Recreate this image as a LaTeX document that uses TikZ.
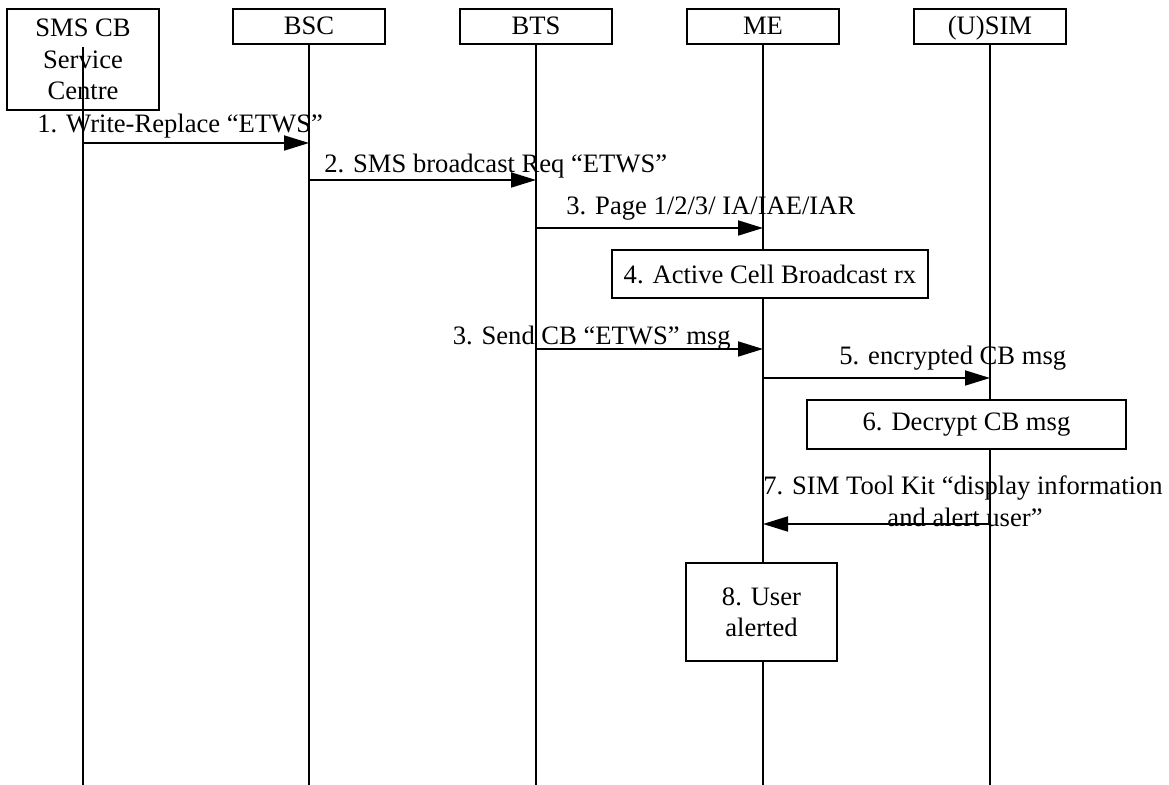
\documentclass[tikz,border=0pt]{standalone}
\usepackage{fontspec}
\setmainfont{Liberation Serif}
\usetikzlibrary{arrows.meta}
\begin{document}
\begin{tikzpicture}[x=0.5pt,y=-0.5pt,
  every node/.style={font=\fontsize{13.3}{15.7}\selectfont, inner sep=0pt},
  boxline/.style={draw, line width=0.9pt},
  hdr/.style={boxline, minimum width=76pt, minimum height=17.5pt, text height=10pt, text depth=1.5pt},
  act/.style={boxline, fill=white, align=center},
  life/.style={line width=0.9pt},
  msg/.style={line width=0.9pt, -{Triangle[length=12.5pt,width=7.5pt]}},
  lbl/.style={anchor=base west}]
\useasboundingbox (0,0) rectangle (1169,785);

% header boxes
\node[boxline, minimum width=76pt, minimum height=50.5pt, align=center] (smscb) at (83,59.5) {SMS CB\\Service\\Centre};
\node[hdr] (bsc) at (309,26.5) {BSC};
\node[hdr] (bts) at (536,26.5) {BTS};
\node[hdr] (me) at (763,26.5) {ME};
\node[hdr] (usim) at (990,26.5) {(U)SIM};

% lifeline ends
\coordinate (smsT) at (83,47);
\coordinate (smsE) at (83,785);
\coordinate (bscE) at (309,785);
\coordinate (btsE) at (536,785);
\coordinate (meE) at (763,785);
\coordinate (usimE) at (990,785);

\draw[life] (smsT) -- (smsE);
\draw[life] (bsc.south) -- (bscE);
\draw[life] (bts.south) -- (btsE);
\draw[life] (me.south) -- (meE);
\draw[life] (usim.south) -- (usimE);

% action boxes
\node[act, minimum width=158pt, minimum height=24pt] (act4) at (770,274) {4. Active Cell Broadcast rx};
\node[act, minimum width=159.5pt, minimum height=24.5pt] (act6) at (966.5,424.5) {6. Decrypt CB msg};
\node[act, minimum width=75.5pt, minimum height=49pt] (act8) at (761.5,612) {8. User\\alerted};

% message end points
\coordinate (m1a) at (83,143);   \coordinate (m1b) at (309,143);
\coordinate (m2a) at (309,180);  \coordinate (m2b) at (536,180);
\coordinate (m3a) at (536,228);  \coordinate (m3b) at (763,228);
\coordinate (m3ca) at (536,349); \coordinate (m3cb) at (763,349);
\coordinate (m5a) at (763,378);  \coordinate (m5b) at (990,378);
\coordinate (m7a) at (990,524);  \coordinate (m7b) at (763,524);

\draw[msg] (m1a) -- (m1b);
\draw[msg] (m2a) -- (m2b);
\draw[msg] (m3a) -- (m3b);
\draw[msg] (m3ca) -- (m3cb);
\draw[msg] (m5a) -- (m5b);
\draw[msg] (m7a) -- (m7b);

% labels
\node[lbl] (l1) at (37,133) {1. Write-Replace “ETWS”};
\node[lbl] (l2) at (324,173) {2. SMS broadcast Req “ETWS”};
\node[lbl] (l3) at (566,215) {3. Page 1/2/3/ IA/IAE/IAR};
\node[anchor=base east] (l3c) at (731,345) {3. Send CB “ETWS” msg};
\node[lbl] (l5) at (839,365) {5. encrypted CB msg};
\node[anchor=base] (l7a) at (963,495) {7. SIM Tool Kit “display information};
\node[anchor=base] (l7b) at (965,527) {and alert user”};
\end{tikzpicture}
\end{document}
